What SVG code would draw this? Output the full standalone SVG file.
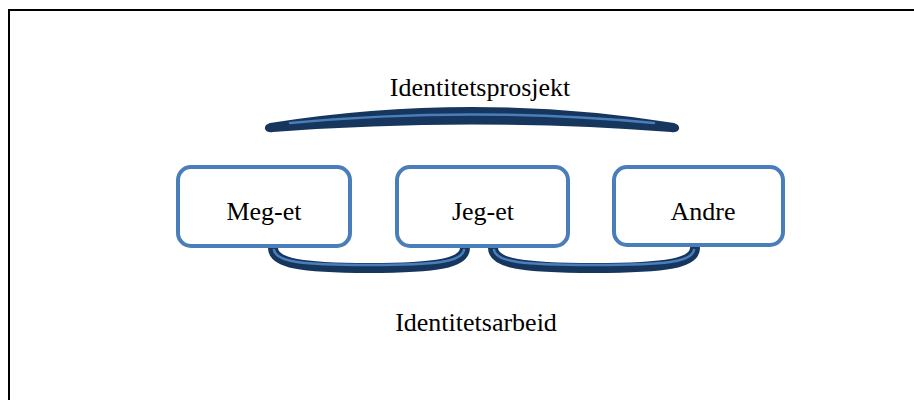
<svg xmlns="http://www.w3.org/2000/svg" width="914" height="400" viewBox="0 0 914 400">
  <style>
    .frame { fill: none; stroke: #000; stroke-width: 2; }
    .box { fill: #fff; stroke: #4a7ebb; stroke-width: 4; }
    .label { font-family: "Liberation Serif", "Times New Roman", serif; font-size: 26px; fill: #000; text-anchor: middle; }
    .brace { fill: #17365d; }
    .hl { fill: none; stroke: #4a7ebb; stroke-width: 2.5; stroke-linecap: round; }
    .cup { fill: none; stroke: #17365d; stroke-width: 10; stroke-linecap: round; }
    .cup-hl { fill: none; stroke: #4a7ebb; stroke-width: 2.5; stroke-linecap: round; }
  </style>

  <!-- outer frame (right and bottom edges run past the page) -->
  <rect class="frame" x="9" y="10" width="1000" height="500"/>

  <g id="connectors">
    <!-- upper brace over all three boxes -->
    <g id="brace-top">
      <path class="brace" d="M 270 123 Q 472 91 674 123 Q 680 125 679 129 Q 677 133 671 132 Q 472 117 273 132 Q 267 133 265 129 Q 264 125 270 123 Z"/>
      <path class="hl" d="M 290 123 Q 472 106 654 123"/>
    </g>
    <!-- lower cup between Meg-et and Jeg-et -->
    <g id="cup-left">
      <path class="cup" d="M 273 248 C 273 263, 300 268, 369 268 C 438 268, 465 263, 465 248"/>
      <path class="cup-hl" d="M 274 250 C 276 262, 302 265, 369 265 C 436 265, 462 262, 464 250"/>
    </g>
    <!-- lower cup between Jeg-et and Andre -->
    <g id="cup-right">
      <path class="cup" d="M 493 248 C 493 263, 520 268, 594 268 C 668 268, 695 263, 695 248"/>
      <path class="cup-hl" d="M 494 250 C 496 262, 522 265, 594 265 C 666 265, 692 262, 694 250"/>
    </g>
  </g>

  <g id="node-meg-et">
    <rect class="box" x="178" y="167" width="172" height="79" rx="13"/>
    <text class="label" x="264" y="220">Meg-et</text>
  </g>
  <g id="node-jeg-et">
    <rect class="box" x="397" y="167" width="171" height="79" rx="13"/>
    <text class="label" x="483" y="220">Jeg-et</text>
  </g>
  <g id="node-andre">
    <rect class="box" x="614" y="167" width="169" height="78" rx="13"/>
    <text class="label" x="703" y="220">Andre</text>
  </g>

  <g id="label-prosjekt">
    <text class="label" x="480" y="96">Identitetsprosjekt</text>
  </g>
  <g id="label-arbeid">
    <text class="label" x="476" y="331">Identitetsarbeid</text>
  </g>
</svg>
